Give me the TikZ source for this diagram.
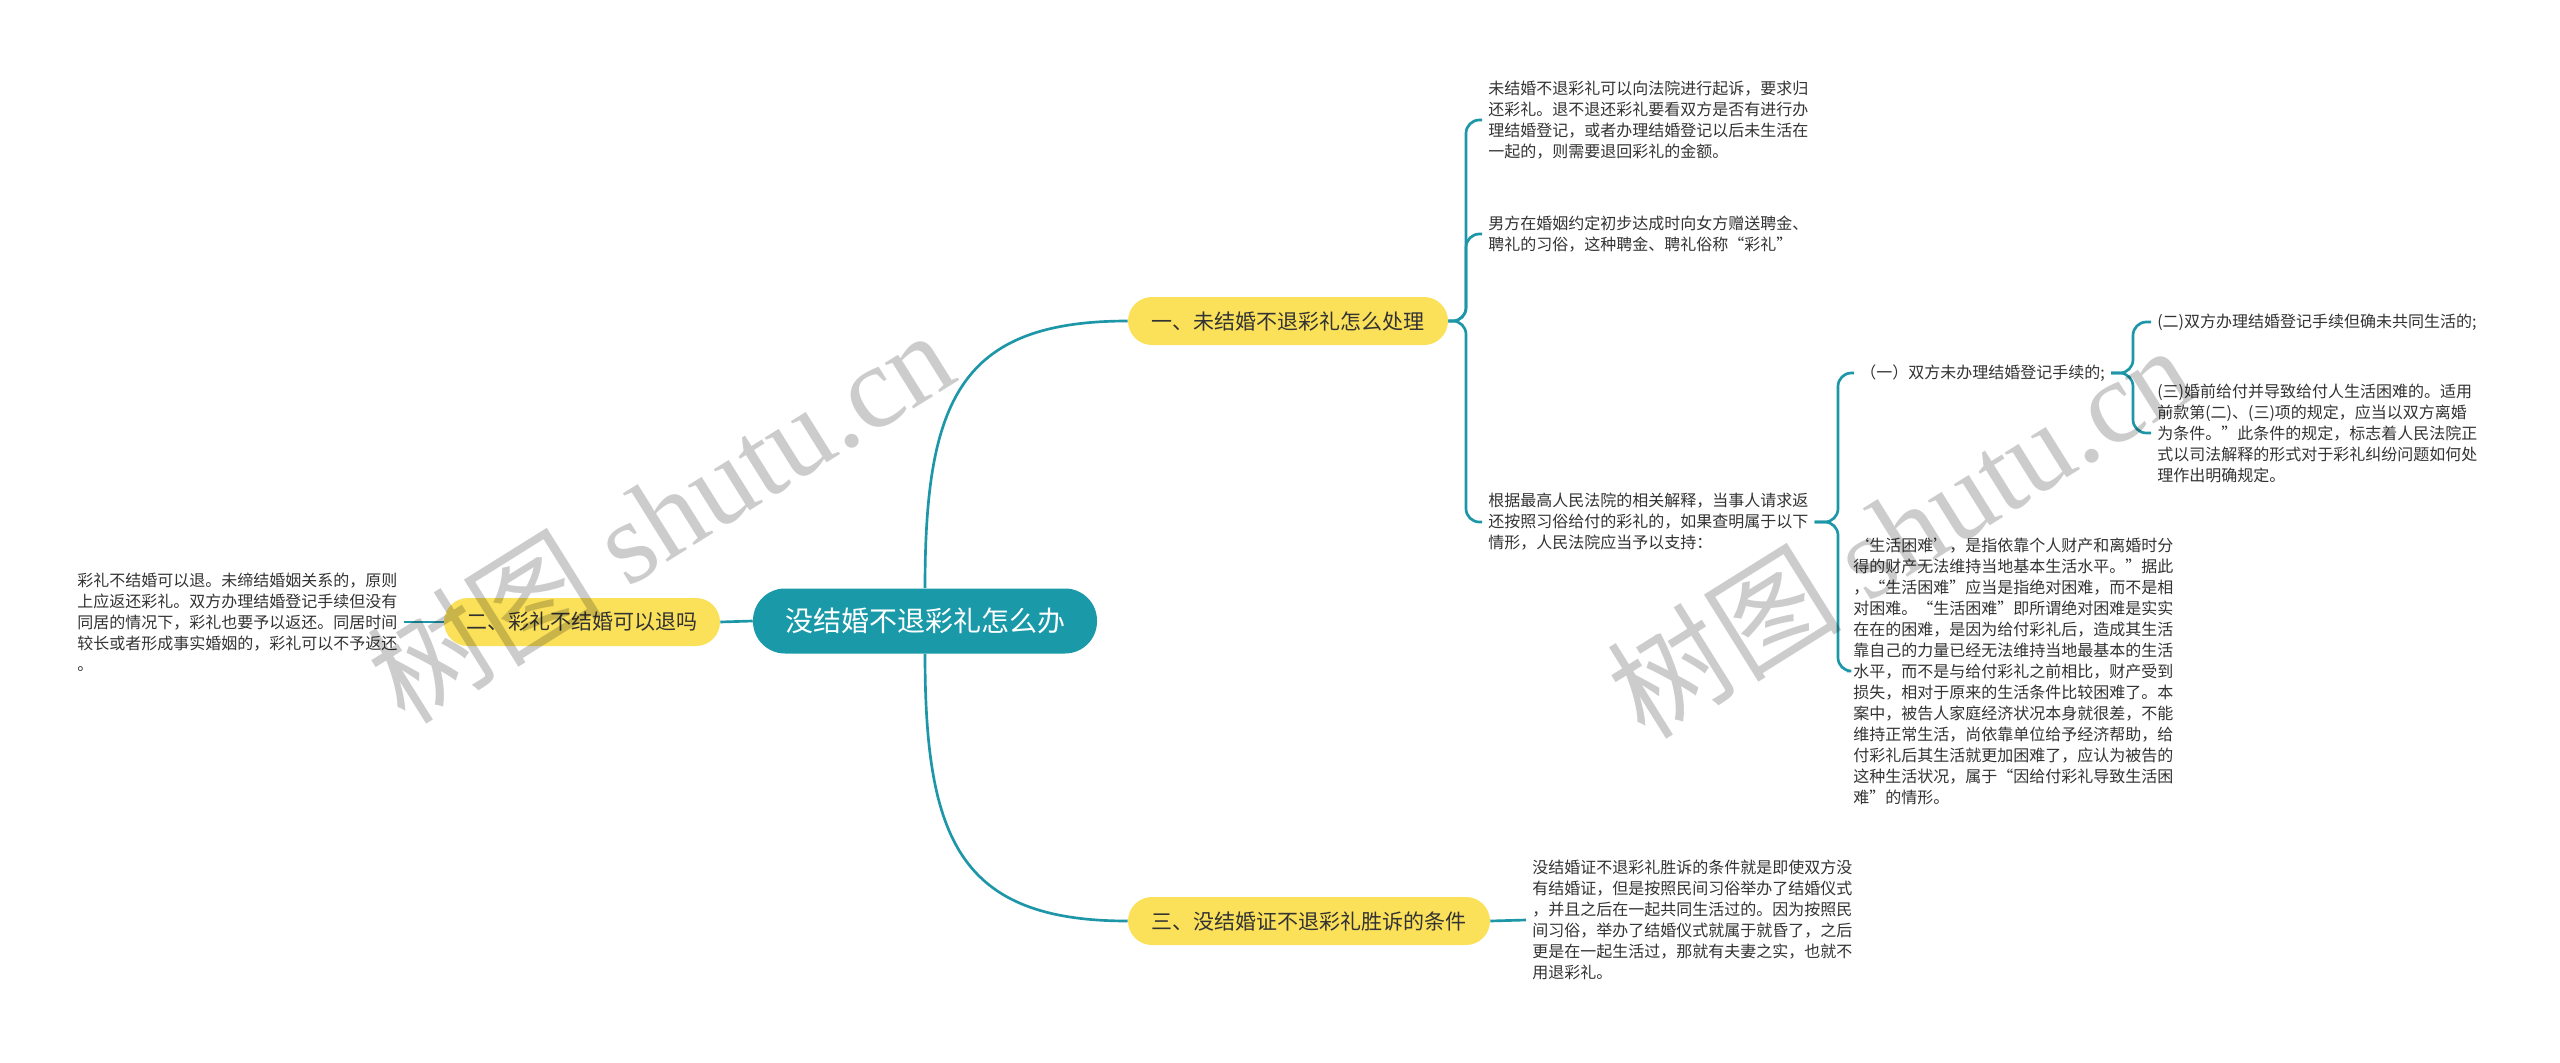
\documentclass[tikz,border=0pt]{standalone}
\usepackage{fontspec}
\newfontfamily\cjk{Noto Sans CJK SC}
\newfontfamily\wmlatin{Liberation Serif}
\definecolor{linec}{HTML}{1D97A8}
\definecolor{rootc}{HTML}{1A9AA9}
\definecolor{yellowc}{HTML}{FBE15A}
\definecolor{textc}{HTML}{333333}
\begin{document}
\begin{tikzpicture}[x=0.75pt,y=-0.75pt,
  conn/.style={draw=linec, line width=2pt, rounded corners=10pt},
  txt/.style={font=\cjk\fontsize{12}{15.75}\selectfont, text=textc, align=left, inner xsep=4.5pt, inner ysep=2pt, anchor=west},
  branch/.style={fill=yellowc, rounded corners=18pt, minimum height=36pt, font=\cjk\fontsize{15.75}{18}\selectfont, text=textc, inner sep=0pt},
  rootbox/.style={fill=rootc, rounded corners=24pt, minimum height=48.75pt, font=\cjk\fontsize{21}{24}\selectfont, text=white, inner sep=0pt},
  wm/.style={text=black, text opacity=0.2, rotate=32}]
\useasboundingbox (0,0) rectangle (2560,1063);
\fill[white] (0,0) rectangle (2560,1063);

% main nodes
\node[rootbox, minimum width=258pt] (root) at (925,621) {没结婚不退彩礼怎么办};
\node[branch, minimum width=240pt] (b1) at (1288,321) {一、未结婚不退彩礼怎么处理};
\node[branch, minimum width=207pt] (b2) at (582,622) {二、彩礼不结婚可以退吗};
\node[branch, minimum width=271.5pt] (b3) at (1309,921) {三、没结婚证不退彩礼胜诉的条件};

% text nodes
\node[txt] (t1) at (1482,120) {未结婚不退彩礼可以向法院进行起诉，要求归\\还彩礼。退不退还彩礼要看双方是否有进行办\\理结婚登记，或者办理结婚登记以后未生活在\\一起的，则需要退回彩礼的金额。};
\node[txt] (t2) at (1482,234) {男方在婚姻约定初步达成时向女方赠送聘金、\\聘礼的习俗，这种聘金、聘礼俗称“彩礼”};
\node[txt] (t3) at (1482,522) {根据最高人民法院的相关解释，当事人请求返\\还按照习俗给付的彩礼的，如果查明属于以下\\情形，人民法院应当予以支持：};
\node[txt] (a1) at (1854,373) {（一）双方未办理结婚登记手续的;};
\node[txt] (a2) at (2151,322) {(二)双方办理结婚登记手续但确未共同生活的;};
\node[txt] (a3) at (2151,433) {(三)婚前给付并导致给付人生活困难的。适用\\前款第(二)、(三)项的规定，应当以双方离婚\\为条件。”此条件的规定，标志着人民法院正\\式以司法解释的形式对于彩礼纠纷问题如何处\\理作出明确规定。};
\node[txt] (lt) at (1847,671) {‘生活困难’，是指依靠个人财产和离婚时分\\得的财产无法维持当地基本生活水平。”据此\\，“生活困难”应当是指绝对困难，而不是相\\对困难。“生活困难”即所谓绝对困难是实实\\在在的困难，是因为给付彩礼后，造成其生活\\靠自己的力量已经无法维持当地最基本的生活\\水平，而不是与给付彩礼之前相比，财产受到\\损失，相对于原来的生活条件比较困难了。本\\案中，被告人家庭经济状况本身就很差，不能\\维持正常生活，尚依靠单位给予经济帮助，给\\付彩礼后其生活就更加困难了，应认为被告的\\这种生活状况，属于“因给付彩礼导致生活困\\难”的情形。};
\node[txt] (left) at (71,622) {彩礼不结婚可以退。未缔结婚姻关系的，原则\\上应返还彩礼。双方办理结婚登记手续但没有\\同居的情况下，彩礼也要予以返还。同居时间\\较长或者形成事实婚姻的，彩礼可以不予返还\\。};
\node[txt] (t4) at (1526,920) {没结婚证不退彩礼胜诉的条件就是即使双方没\\有结婚证，但是按照民间习俗举办了结婚仪式\\，并且之后在一起共同生活过的。因为按照民\\间习俗，举办了结婚仪式就属于就昏了，之后\\更是在一起生活过，那就有夫妻之实，也就不\\用退彩礼。};

% connectors
\draw[conn] (root.north) .. controls (925,400) and (960,321) .. (b1.west);
\draw[conn] (root.south) .. controls (925,840) and (960,921) .. (b3.west);
\draw[conn] (root.west) -- (b2.east);
\draw[conn] (b2.west) -- (left.east);
\draw[conn] (b3.east) -- (t4.west);

\draw[conn] (b1.east) -- (1466,321) -- (1466,120) -- (t1.west);
\draw[conn] (b1.east) -- (1466,321) -- (1466,234) -- (t2.west);
\draw[conn] (b1.east) -- (1466,321) -- (1466,522) -- (t3.west);

\draw[conn] (t3.east) -- (1838,522) -- (1838,373) -- (a1.west);
\draw[conn] (t3.east) -- (1838,522) -- (1838,671) -- (lt.west);

\draw[conn] (a1.east) -- (2133,373) -- (2133,322) -- (a2.west);
\draw[conn] (a1.east) -- (2133,373) -- (2133,433) -- (a3.west);

% watermarks
\node[wm] (wm1) at (660,515) {\fontsize{88}{96}\selectfont\cjk 树图 \wmlatin shutu.cn};
\node[wm] (wm2) at (1900,530) {\fontsize{88}{96}\selectfont\cjk 树图 \wmlatin shutu.cn};
\end{tikzpicture}
\end{document}
